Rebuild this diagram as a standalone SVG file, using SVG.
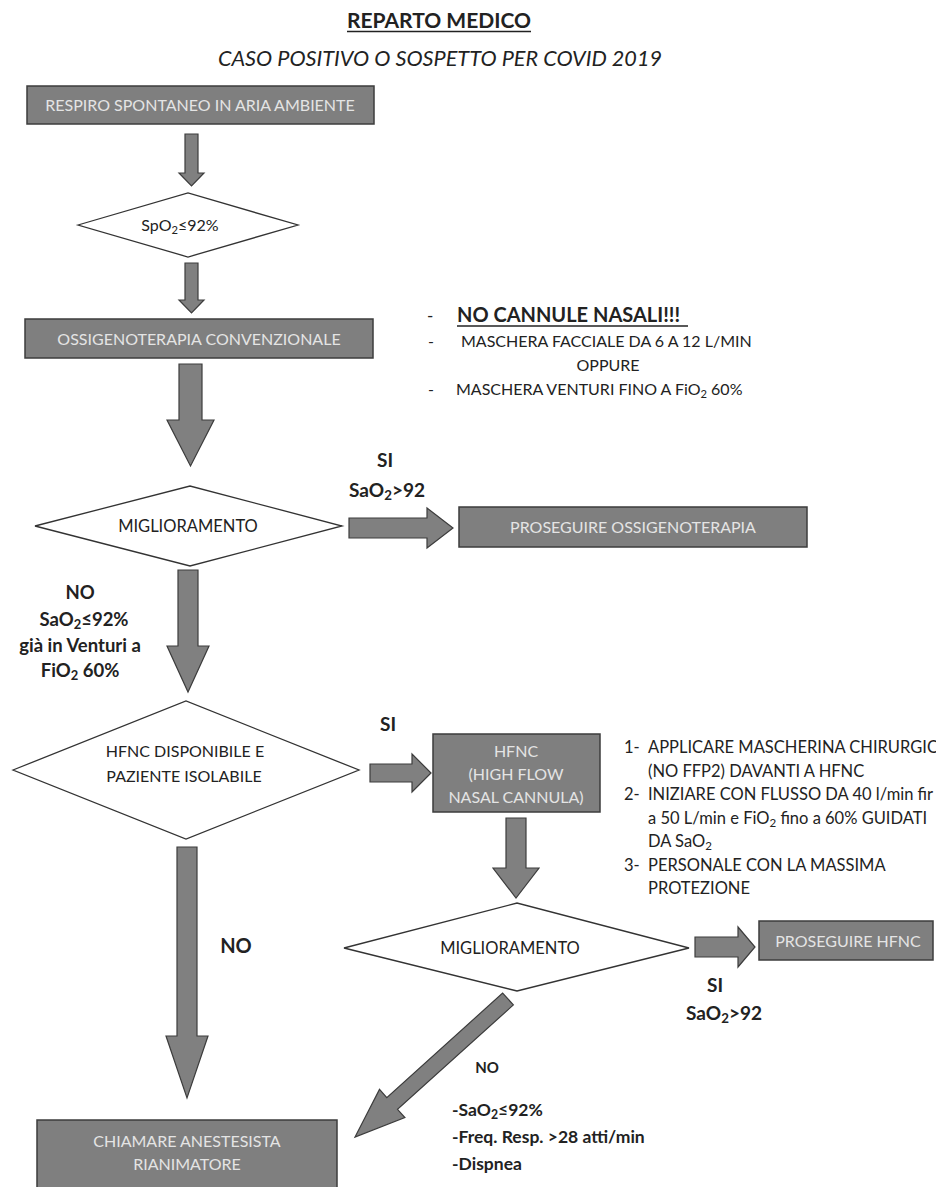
<svg xmlns="http://www.w3.org/2000/svg" width="936" height="1187" viewBox="0 0 936 1187">
  <style>
    .t { font-family: Lato, "Liberation Sans", "DejaVu Sans", sans-serif; fill: #222; }
    .b { font-weight: bold; }
    .c { text-anchor: middle; }
    .box { fill: #7f7f7f; stroke: #3c3c3c; stroke-width: 1.5; }
    .bt { font-family: Lato, "Liberation Sans", "DejaVu Sans", sans-serif; fill: #e4e4e4; font-size: 16px; text-anchor: middle; }
    .dia { fill: #ffffff; stroke: #333333; stroke-width: 1.3; }
    .arr { fill: #808080; stroke: #3c3c3c; stroke-width: 1.2; stroke-linejoin: miter; }
    .sub { font-size: 70%; }
  </style>
  <rect width="936" height="1187" fill="#ffffff"/>

  <!-- headings -->
  <g id="title">
    <text class="t b c" x="439" y="28" font-size="21">REPARTO MEDICO</text>
    <line x1="347" y1="31.5" x2="531" y2="31.5" stroke="#222" stroke-width="1.6"/>
    <text class="t c" x="440" y="66" font-size="20.5" font-style="italic" textLength="444" lengthAdjust="spacingAndGlyphs">CASO POSITIVO O SOSPETTO PER COVID 2019</text>
  </g>

  <!-- connectors: block arrows -->
  <g id="connectors">
    <polygon class="arr" points="185,134 198,134 198,173 204,173 191.5,186 179,173 185,173"/>
    <polygon class="arr" points="185,263 198,263 198,300 204,300 191.5,313 179,300 185,300"/>
    <polygon class="arr" points="179,364 202,364 202,420 214,420 190.5,466 167,420 179,420"/>
    <polygon class="arr" points="349,518 427,518 427,508 453,528 427,548 427,538 349,538"/>
    <polygon class="arr" points="178,570 198,570 198,646 209,646 188,692 167,646 178,646"/>
    <polygon class="arr" points="370,764 412,764 412,754 431,773 412,792 412,782 370,782"/>
    <polygon class="arr" points="506,818 526,818 526,868 539,868 516,898 493,868 506,868"/>
    <polygon class="arr" points="695,937 738,937 738,927 755,947 738,967 738,957 695,957"/>
    <polygon class="arr" points="177,847 197,847 197,1036 208,1036 187,1098 166,1036 177,1036"/>
    <polygon class="arr" points="513.4,1004.9 397.5,1109.4 404.9,1117.6 355,1137 379.5,1089.4 386.8,1097.6 502.6,993.1"/>
  </g>

  <g id="n-respiro">
    <rect class="box" x="27" y="86" width="347" height="38"/>
    <text class="bt" x="200" y="111">RESPIRO SPONTANEO IN ARIA AMBIENTE</text>
  </g>

  <g id="n-spo2">
    <polygon class="dia" points="78,225 188,193 298,225 188,257"/>
    <text class="t c" x="180" y="231" font-size="16">SpO<tspan class="sub" dy="3">2</tspan><tspan dy="-3">≤92%</tspan></text>
  </g>

  <g id="n-ossigeno">
    <rect class="box" x="25" y="319" width="348" height="39"/>
    <text class="bt" x="199" y="345">OSSIGENOTERAPIA CONVENZIONALE</text>
  </g>

  <g id="n-note-ossigeno">
    <text class="t" x="427" y="322" font-size="17">-</text>
    <text class="t b" x="457" y="322" font-size="20">NO CANNULE NASALI!!!</text>
    <line x1="457" y1="326" x2="688" y2="326" stroke="#222" stroke-width="1.6"/>
    <text class="t" x="428" y="347" font-size="16">-</text>
    <text class="t" x="461" y="347" font-size="16">MASCHERA FACCIALE DA 6 A 12 L/MIN</text>
    <text class="t c" x="608" y="371" font-size="16">OPPURE</text>
    <text class="t" x="428" y="395" font-size="16">-</text>
    <text class="t" x="456" y="395" font-size="16">MASCHERA VENTURI FINO A FiO<tspan class="sub" dy="3">2</tspan><tspan dy="-3"> 60%</tspan></text>
  </g>

  <g id="n-miglioramento-1">
    <polygon class="dia" points="35,526 190,486 342,526 190,566"/>
    <text class="t c" x="188" y="532" font-size="16.5">MIGLIORAMENTO</text>
  </g>

  <g id="lbl-si-1">
    <text class="t b c" x="385" y="467" font-size="19">SI</text>
    <text class="t b c" x="387" y="497" font-size="19">SaO<tspan class="sub" dy="3">2</tspan><tspan dy="-3">&gt;92</tspan></text>
  </g>

  <g id="n-prosegui-ossigeno">
    <rect class="box" x="459" y="507" width="348" height="40"/>
    <text class="bt" x="633" y="533" font-size="15">PROSEGUIRE OSSIGENOTERAPIA</text>
  </g>

  <g id="lbl-no-1">
    <text class="t b c" x="80" y="599" font-size="18.5">NO</text>
    <text class="t b c" x="84" y="626" font-size="18.5">SaO<tspan class="sub" dy="3">2</tspan><tspan dy="-3">≤92%</tspan></text>
    <text class="t b c" x="80" y="652" font-size="18.5">già in Venturi a</text>
    <text class="t b c" x="80" y="677" font-size="18.5">FiO<tspan class="sub" dy="3">2</tspan><tspan dy="-3"> 60%</tspan></text>
  </g>

  <g id="n-hfnc-disponibile">
    <polygon class="dia" points="13,770 186,701 359,770 186,839"/>
    <text class="t c" x="185" y="757" font-size="16">HFNC DISPONIBILE E</text>
    <text class="t c" x="184" y="782" font-size="16">PAZIENTE ISOLABILE</text>
  </g>

  <g id="lbl-si-2">
    <text class="t b c" x="388" y="731" font-size="19">SI</text>
  </g>

  <g id="n-hfnc">
    <rect class="box" x="433" y="734" width="167" height="78"/>
    <text class="bt" x="516" y="757">HFNC</text>
    <text class="bt" x="516" y="780">(HIGH FLOW</text>
    <text class="bt" x="516" y="803">NASAL CANNULA)</text>
  </g>

  <g id="n-note-hfnc">
    <text class="t" x="624" y="753" font-size="16.5">1-</text>
    <text class="t" x="648" y="753" font-size="16.5">APPLICARE MASCHERINA CHIRURGIC</text>
    <text class="t" x="648" y="776.5" font-size="16.5">(NO FFP2) DAVANTI A HFNC</text>
    <text class="t" x="624" y="800" font-size="16.5">2-</text>
    <text class="t" x="648" y="800" font-size="16.5">INIZIARE CON FLUSSO DA 40 l/min fir</text>
    <text class="t" x="648" y="823.5" font-size="16.5">a 50 L/min e FiO<tspan class="sub" dy="3">2</tspan><tspan dy="-3"> fino a 60% GUIDATI</tspan></text>
    <text class="t" x="648" y="847" font-size="16.5">DA SaO<tspan class="sub" dy="3">2</tspan></text>
    <text class="t" x="624" y="870.5" font-size="16.5">3-</text>
    <text class="t" x="648" y="870.5" font-size="16.5">PERSONALE CON LA MASSIMA</text>
    <text class="t" x="648" y="894" font-size="16.5">PROTEZIONE</text>
  </g>

  <g id="n-miglioramento-2">
    <polygon class="dia" points="344,948 517,903 689,948 517,991"/>
    <text class="t c" x="510" y="954" font-size="16.5">MIGLIORAMENTO</text>
  </g>

  <g id="n-prosegui-hfnc">
    <rect class="box" x="759" y="921" width="174" height="39"/>
    <text class="bt" x="848" y="947" font-size="16">PROSEGUIRE HFNC</text>
  </g>

  <g id="lbl-si-3">
    <text class="t b c" x="715" y="992" font-size="19">SI</text>
    <text class="t b c" x="724" y="1020" font-size="19">SaO<tspan class="sub" dy="3">2</tspan><tspan dy="-3">&gt;92</tspan></text>
  </g>

  <g id="lbl-no-2">
    <text class="t b c" x="236" y="953" font-size="20">NO</text>
  </g>

  <g id="lbl-no-3">
    <text class="t b c" x="487" y="1073" font-size="15">NO</text>
    <text class="t b" x="452" y="1116" font-size="17.5">-SaO<tspan class="sub" dy="3">2</tspan><tspan dy="-3">≤92%</tspan></text>
    <text class="t b" x="452" y="1143" font-size="17.5">-Freq. Resp. &gt;28 atti/min</text>
    <text class="t b" x="452" y="1170" font-size="17.5">-Dispnea</text>
  </g>

  <g id="n-anestesista">
    <rect class="box" x="37" y="1120" width="300" height="80"/>
    <text class="bt" x="187" y="1147">CHIAMARE ANESTESISTA</text>
    <text class="bt" x="187" y="1170">RIANIMATORE</text>
  </g>
</svg>
